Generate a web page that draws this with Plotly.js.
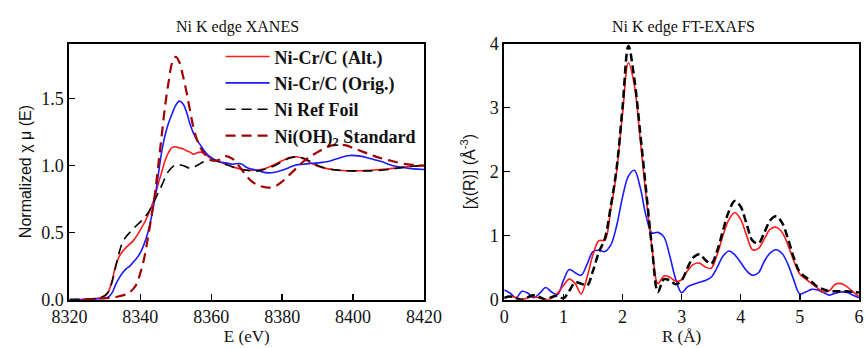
<!DOCTYPE html>
<html>
<head>
<meta charset="utf-8">
<script src="https://cdn.plot.ly/plotly-3.0.1.min.js"></script>
<style>html,body{margin:0;padding:0;background:#fff;}#plot{width:865px;height:348px;}</style>
</head>
<body>
<div id="plot"></div>
<script>
// ---------- XANES (left) ----------
const seriesNames = ["Ni-Cr/C (Alt.)", "Ni-Cr/C (Orig.)", "Ni Ref Foil", "Ni(OH)<sub>2</sub> Standard"];

const E_alt = [8320,8325,8328,8330,8331,8332,8333,8334,8335,8336,8338,8340,8342,8344,8345,8346,8347,8348,8349,8350,8351,8352,8353,8354,8355,8356,8357,8358,8359,8360,8362,8364,8366,8368,8370,8372,8374,8376,8378,8380,8382,8384,8386,8388,8390,8393,8396,8400,8405,8410,8415,8420];
const mu_alt = [0.0,0.005,0.01,0.03,0.06,0.14,0.25,0.32,0.36,0.39,0.44,0.52,0.62,0.76,0.86,0.95,1.04,1.10,1.135,1.14,1.13,1.125,1.11,1.10,1.085,1.095,1.10,1.09,1.07,1.05,1.03,1.01,0.99,0.975,0.965,0.965,0.97,0.985,1.01,1.035,1.06,1.065,1.05,1.02,0.995,0.975,0.965,0.96,0.965,0.975,0.99,1.0];

const E_orig = [8320,8325,8328,8330,8331,8332,8333,8334,8335,8336,8337,8338,8339,8340,8341,8342,8343,8344,8345,8346,8347,8348,8349,8350,8351,8352,8353,8354,8355,8356,8357,8358,8359,8360,8362,8364,8366,8368,8369,8370,8372,8374,8376,8378,8380,8382,8384,8386,8388,8390,8393,8396,8399,8402,8405,8408,8411,8414,8417,8420];
const mu_orig = [0.0,0.0,0.005,0.01,0.02,0.05,0.11,0.16,0.20,0.23,0.25,0.28,0.31,0.35,0.41,0.49,0.60,0.74,0.92,1.10,1.23,1.32,1.39,1.45,1.48,1.46,1.40,1.31,1.24,1.19,1.15,1.11,1.08,1.06,1.03,1.02,1.01,1.015,1.005,0.985,0.97,0.955,0.945,0.95,0.965,0.985,1.005,1.01,1.015,1.02,1.03,1.055,1.075,1.07,1.05,1.03,1.0,0.985,0.975,0.97];

const E_foil = [8320,8325,8328,8330,8331,8332,8333,8334,8335,8336,8337,8338,8340,8342,8344,8346,8348,8350,8352,8354,8356,8358,8360,8362,8364,8366,8368,8370,8372,8374,8376,8378,8380,8382,8384,8386,8388,8390,8393,8396,8400,8405,8410,8415,8420];
const mu_foil = [0.0,0.005,0.01,0.03,0.06,0.13,0.24,0.35,0.43,0.47,0.50,0.53,0.58,0.64,0.74,0.85,0.96,1.005,1.0,0.98,1.0,1.03,1.04,1.03,1.01,0.99,0.975,0.965,0.96,0.965,0.98,1.0,1.03,1.055,1.065,1.055,1.03,1.0,0.975,0.965,0.96,0.96,0.97,0.99,1.0];

const E_std = [8324,8328,8330,8332,8334,8336,8337,8338,8339,8340,8341,8342,8343,8344,8345,8346,8347,8348,8349,8350,8351,8352,8353,8354,8355,8356,8357,8358,8360,8362,8364,8366,8368,8370,8372,8374,8376,8378,8380,8382,8384,8386,8388,8390,8392,8394,8396,8398,8400,8403,8406,8410,8415,8420];
const mu_std = [0.0,0.005,0.01,0.015,0.025,0.04,0.055,0.08,0.12,0.20,0.30,0.44,0.60,0.77,0.99,1.22,1.45,1.63,1.77,1.81,1.77,1.67,1.55,1.41,1.28,1.19,1.13,1.09,1.04,1.04,1.07,1.05,0.99,0.92,0.87,0.845,0.835,0.845,0.88,0.93,0.98,1.03,1.07,1.10,1.13,1.15,1.155,1.15,1.13,1.10,1.07,1.04,1.01,1.0];

// ---------- FT-EXAFS (right) ----------
const R = [0.0,0.1,0.2,0.3,0.4,0.5,0.6,0.7,0.8,0.9,1.0,1.1,1.2,1.3,1.4,1.5,1.6,1.7,1.8,1.9,2.0,2.1,2.2,2.3,2.4,2.5,2.6,2.7,2.8,2.9,3.0,3.1,3.2,3.3,3.4,3.5,3.6,3.7,3.8,3.9,4.0,4.1,4.2,4.3,4.4,4.5,4.6,4.7,4.8,4.9,5.0,5.1,5.2,5.3,5.4,5.5,5.6,5.7,5.8,5.9,6.0];
const chi_alt  = [0.02,0.05,0.03,0.0,0.03,0.05,0.02,0.0,0.02,0.10,0.22,0.32,0.25,0.09,0.35,0.70,0.92,0.93,1.40,2.00,2.90,3.70,3.35,2.50,1.60,0.80,0.25,0.37,0.35,0.29,0.31,0.45,0.55,0.57,0.51,0.49,0.70,1.00,1.25,1.36,1.25,1.00,0.78,0.80,0.95,1.10,1.13,1.05,0.85,0.60,0.40,0.32,0.25,0.18,0.12,0.14,0.24,0.25,0.20,0.12,0.05];
const chi_orig = [0.15,0.10,0.03,0.13,0.10,0.03,0.10,0.19,0.12,0.08,0.30,0.47,0.42,0.38,0.55,0.75,0.77,0.75,0.85,1.15,1.60,1.93,2.02,1.75,1.30,1.04,1.05,0.98,0.68,0.32,0.11,0.20,0.24,0.27,0.30,0.35,0.50,0.68,0.76,0.70,0.58,0.45,0.38,0.42,0.60,0.73,0.78,0.72,0.55,0.30,0.09,0.12,0.16,0.15,0.11,0.07,0.10,0.12,0.11,0.07,0.03];
const chi_foil = [0.03,0.05,0.02,0.0,0.04,0.07,0.04,0.0,0.04,0.06,0.02,0.14,0.27,0.25,0.22,0.45,0.74,0.95,1.45,2.05,3.00,3.96,3.45,2.60,1.70,0.80,0.12,0.32,0.30,0.24,0.30,0.50,0.66,0.71,0.62,0.56,0.76,1.08,1.38,1.54,1.45,1.18,0.92,0.88,1.05,1.24,1.30,1.20,0.95,0.65,0.43,0.35,0.28,0.20,0.16,0.13,0.13,0.13,0.13,0.12,0.11];

const xTicksLeft = [8320,8340,8360,8380,8400,8420];
const yTicksLeft = [0.0,0.5,1.0,1.5];
const xTicksRight = [0,1,2,3,4,5,6];
const yTicksRight = [0,1,2,3,4];

const SERIF = "Liberation Serif";
const SANS = "Liberation Sans";

const cRed = "#ff1a1a", cBlue = "#1a1aff", cBlack = "#000000", cDark = "#a00000";

const traces = [
  {x:E_alt, y:mu_alt, name:seriesNames[0], mode:"lines", line:{color:cRed, width:1.6, shape:"spline"}, xaxis:"x", yaxis:"y"},
  {x:E_orig, y:mu_orig, name:seriesNames[1], mode:"lines", line:{color:cBlue, width:1.6, shape:"spline"}, xaxis:"x", yaxis:"y"},
  {x:E_foil, y:mu_foil, name:seriesNames[2], mode:"lines", line:{color:cBlack, width:1.6, dash:"10px,6px", shape:"spline"}, xaxis:"x", yaxis:"y"},
  {x:E_std, y:mu_std, name:seriesNames[3], mode:"lines", line:{color:cDark, width:2.2, dash:"10px,6px", shape:"spline"}, xaxis:"x", yaxis:"y"},
  {x:R, y:chi_orig, name:seriesNames[1], mode:"lines", showlegend:false, line:{color:cBlue, width:1.6, shape:"spline"}, xaxis:"x2", yaxis:"y2"},
  {x:R, y:chi_alt, name:seriesNames[0], mode:"lines", showlegend:false, line:{color:cRed, width:1.6, shape:"spline"}, xaxis:"x2", yaxis:"y2"},
  {x:R, y:chi_foil, name:seriesNames[2], mode:"lines", showlegend:false, line:{color:cBlack, width:2.5, dash:"8px,4px", shape:"spline"}, xaxis:"x2", yaxis:"y2"}
];

function axis(extra) {
  return Object.assign({
    showgrid:false, zeroline:false, showline:true, mirror:true, linecolor:"#000", linewidth:2,
    ticks:"inside", ticklen:6, tickwidth:1.5, tickcolor:"#000",
    tickfont:{family:SERIF, size:18, color:"#111"}
  }, extra);
}

const layout = {
  width:865, height:348,
  margin:{l:0, r:0, t:0, b:0},
  font:{family:SERIF, size:18, color:"#111"},
  paper_bgcolor:"#fff", plot_bgcolor:"#fff",
  showlegend:true,
  legend:{x:0.255, y:0.89, xanchor:"left", yanchor:"top", bgcolor:"rgba(0,0,0,0)",
          font:{family:SERIF, size:18, color:"#111", weight:"bold"}, itemwidth:44, tracegroupgap:0},
  xaxis:axis({domain:[0.0803,0.4902], range:[8320,8420], tickvals:xTicksLeft,
        title:{text:"E (eV)", font:{family:SERIF, size:17, color:"#111"}, standoff:4}}),
  yaxis:axis({domain:[0.139,0.875], range:[0,1.91], tickvals:yTicksLeft, tickformat:".1f",
        title:{text:"Normalized χ μ (E)", font:{family:SANS, size:16, color:"#111"}, standoff:6}}),
  xaxis2:axis({domain:[0.583,0.993], range:[0,6], tickvals:xTicksRight, anchor:"y2",
        title:{text:"R (Å)", font:{family:SERIF, size:17, color:"#111"}, standoff:4}}),
  yaxis2:axis({domain:[0.139,0.875], range:[0,4], tickvals:yTicksRight, anchor:"x2",
        title:{text:"[χ(R)] (Å<sup>-3</sup>)", font:{family:SANS, size:16, color:"#111"}, standoff:10}}),
  annotations:[
    {text:"Ni K edge XANES", xref:"paper", yref:"paper", x:237.7/865, y:1-27/348, xanchor:"center", yanchor:"middle", showarrow:false, font:{family:SERIF, size:16, color:"#111"}},
    {text:"Ni K edge FT-EXAFS", xref:"paper", yref:"paper", x:683/865, y:1-27/348, xanchor:"center", yanchor:"middle", showarrow:false, font:{family:SERIF, size:16, color:"#111"}}
  ]
};

Plotly.newPlot("plot", traces, layout, {staticPlot:true, displayModeBar:false});
</script>
</body>
</html>
